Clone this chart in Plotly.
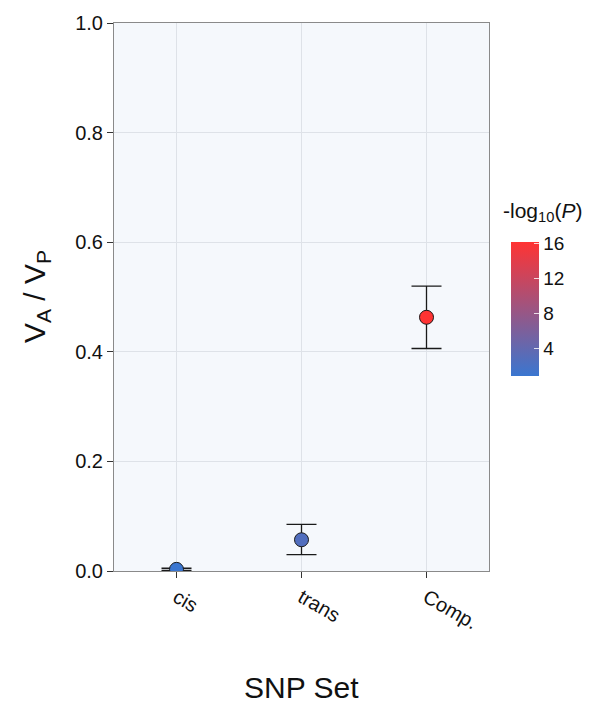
import plotly.graph_objects as go

categories = ["cis", "trans", "Comp."]
ratio = [0.003, 0.057, 0.463]
upper = [0.005, 0.085, 0.520]
lower = [0.001, 0.030, 0.406]
neglogp = [0.8, 2.6, 16.2]
cbar_ticks = [4, 8, 12, 16]
y_ticks = [0.0, 0.2, 0.4, 0.6, 0.8, 1.0]

L, R, T, B = 114, 107, 20, 134
W, H = 596, 705
font = "Liberation Sans, Arial, Helvetica, sans-serif"

fig = go.Figure()
fig.add_trace(go.Scatter(
    x=categories, y=ratio, mode="markers",
    error_y=dict(type="data", symmetric=False,
                 array=[u - r for u, r in zip(upper, ratio)],
                 arrayminus=[r - l for r, l in zip(ratio, lower)],
                 color="#1a1a1a", thickness=1.3, width=15),
    marker=dict(size=14, color=neglogp, cmin=0.8, cmax=16.2,
                colorscale=[[0, "#3A76D0"], [1, "#FF3333"]],
                line=dict(color="#1a1a1a", width=1),
                showscale=True,
                colorbar=dict(x=1.059, xanchor="left", xpad=0, ypad=0,
                              y=0.478, yanchor="middle", len=0.245, lenmode="fraction",
                              thickness=28, outlinewidth=0,
                              tickvals=cbar_ticks, ticks="inside", ticklen=5,
                              tickcolor="rgba(255,255,255,0.8)",
                              tickfont=dict(family=font, size=19, color="#111"))),
    showlegend=False, cliponaxis=True,
))

fig.update_layout(
    width=W, height=H,
    margin=dict(l=L, r=R, t=T, b=B),
    paper_bgcolor="white", plot_bgcolor="#F5F8FC",
    font=dict(family=font, color="#111"),
    xaxis=dict(range=[-0.5, 2.5], type="category", showgrid=True, gridcolor="#DEE2E8",
               gridwidth=1, ticks="outside", ticklen=6, tickcolor="#333",
               tickangle=30, tickfont=dict(size=20, color="#111"),
               showline=True, linecolor="#8a8a8a", mirror=True, zeroline=False),
    yaxis=dict(range=[0, 1], tickvals=y_ticks, ticktext=["0.0", "0.2", "0.4", "0.6", "0.8", "1.0"],
               showgrid=True, gridcolor="#DEE2E8", gridwidth=1,
               ticks="outside", ticklen=6, tickcolor="#333",
               tickfont=dict(size=20, color="#111"),
               showline=True, linecolor="#8a8a8a", mirror=True, zeroline=False),
    annotations=[
        dict(text="SNP Set", xref="paper", yref="paper", x=0.5, y=0, yshift=-116,
             xanchor="center", yanchor="middle", showarrow=False,
             font=dict(size=30, color="#111")),
        dict(text="V<sub>A</sub> / V<sub>P</sub>", xref="paper", yref="paper", x=0, xshift=-78,
             y=0.5, xanchor="center", yanchor="middle", textangle=-90, showarrow=False,
             font=dict(size=30, color="#111")),
        dict(text="-log<sub>10</sub>(<i>P</i>)", xref="paper", yref="paper", x=1, xshift=12,
             y=0.655, xanchor="left", yanchor="middle", showarrow=False,
             font=dict(size=21, color="#111")),
    ],
)

fig.write_html("out.html")
